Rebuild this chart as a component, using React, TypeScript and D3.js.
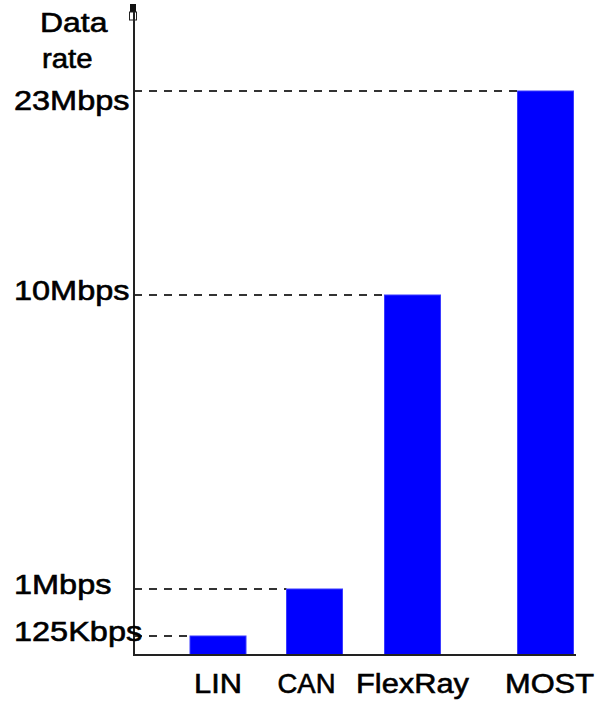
import * as d3 from 'd3';

const categories = ['LIN', 'CAN', 'FlexRay', 'MOST'];
const rates = [0.125, 1, 10, 23]; // Mbps
const tickValues = [0.125, 1, 10, 23];
const tickLabels = ['125Kbps', '1Mbps', '10Mbps', '23Mbps'];

const W = 595;
const H = 702;
const axisX = 134;
const baseY = 655;
const barW = 56;
const FONT = '"Liberation Sans", Arial, Helvetica, sans-serif';

// schematic (non-proportional) axis, like the original drawing
const y = d3.scaleLinear()
  .domain([0, 0.125, 1, 10, 23])
  .range([baseY, 636, 589, 295, 91]);

// uneven spacing of the columns, MOST sits a bit further right
const x = d3.scaleOrdinal<string, number>()
  .domain(categories)
  .range([218, 314.5, 412.5, 545.5]);

// heavier text, the source glyphs look slightly bold
const textStyle = { fill: '#000', stroke: '#000', strokeWidth: 0.6 };

export default function App() {
  return (
    <svg
      width={W}
      height={H}
      viewBox={`0 0 ${W} ${H}`}
      style={{ position: 'absolute', left: 0, top: 0, display: 'block', background: '#fff' }}
      fontFamily={FONT}
    >
      {/* axis title */}
      <text transform="translate(40,32) scale(1.14,1)" fontSize={28} {...textStyle}>Data</text>
      <text transform="translate(42,68) scale(1.05,1)" fontSize={28} {...textStyle}>rate</text>

      {/* dashed guides from the axis to each bar */}
      {tickValues.map((v, i) => (
        <line
          key={'g' + i}
          x1={axisX}
          x2={x(categories[i]) - barW / 2}
          y1={y(v)}
          y2={y(v)}
          stroke="#333"
          strokeWidth={2}
          strokeDasharray="8,7"
        />
      ))}

      {/* bars */}
      {categories.map((c, i) => (
        <rect
          key={c}
          x={x(c) - barW / 2}
          y={y(rates[i])}
          width={barW}
          height={baseY - y(rates[i])}
          fill="#0000ff"
          stroke="#3b3bff"
          strokeWidth={1}
        />
      ))}

      {/* axes */}
      <line x1={axisX} x2={axisX} y1={6} y2={baseY + 1} stroke="#222" strokeWidth={2} />
      <line x1={axisX - 1} x2={576} y1={baseY} y2={baseY} stroke="#222" strokeWidth={2} />
      <rect x={130} y={4} width={6} height={8} fill="#111" />
      <rect x={129.5} y={12} width={7} height={8} fill="none" stroke="#222" strokeWidth={1} />

      {/* y tick labels */}
      {tickValues.map((v, i) => (
        <text
          key={'t' + i}
          transform={`translate(14,${y(v) + (i === tickValues.length - 1 ? 19 : 5)}) scale(1.16,1)`}
          fontSize={28}
          {...textStyle}
        >
          {tickLabels[i]}
        </text>
      ))}

      {/* category labels */}
      {categories.map((c, i) => (
        <text
          key={'l' + c}
          transform={`translate(${x(c) + (i === 1 ? -8 : i === 3 ? 4 : 0)},693) scale(${i === 1 ? 0.98 : 1.1},1)`}
          textAnchor="middle"
          fontSize={28}
          {...textStyle}
        >
          {c}
        </text>
      ))}
    </svg>
  );
}
